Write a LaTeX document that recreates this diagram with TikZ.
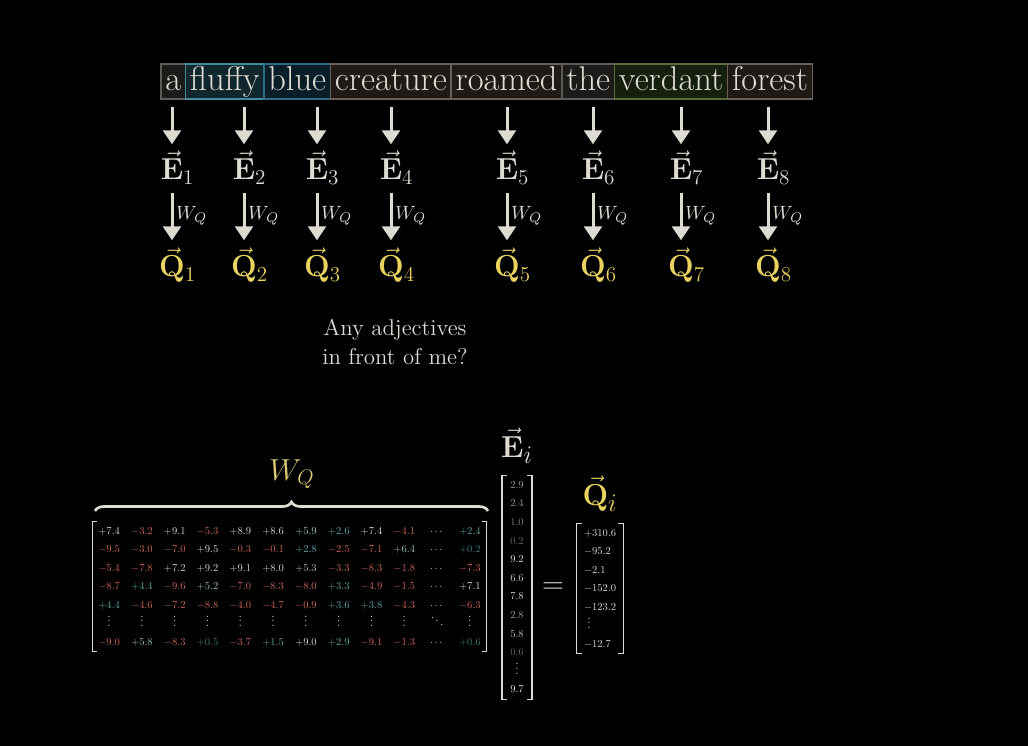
\documentclass[tikz,border=0pt]{standalone}
\usepackage{amsmath}
\usetikzlibrary{arrows.meta,positioning,matrix,calc,decorations.pathreplacing}

\definecolor{bgcol}{HTML}{000000}
\definecolor{fgcol}{HTML}{DEDBD3}
\definecolor{qyel}{HTML}{E8D35E}
\definecolor{wqyel}{HTML}{D9C874}
\definecolor{cwhite}{HTML}{DADAD2}
\definecolor{cteal}{HTML}{62A8A6}
\definecolor{clteal}{HTML}{9CC3BD}
\definecolor{cdim}{HTML}{3C7775}
\definecolor{cred}{HTML}{D06655}
\definecolor{gborder}{HTML}{5E5A55}
\definecolor{gfill}{HTML}{1D1B19}
\definecolor{tborder}{HTML}{3E8C9C}
\definecolor{tfill}{HTML}{0F272D}
\definecolor{bborder}{HTML}{2C6C86}
\definecolor{bfill}{HTML}{0A1E29}
\definecolor{brborder}{HTML}{6A6058}
\definecolor{brfill}{HTML}{1F1A16}
\definecolor{vborder}{HTML}{5A6E3C}
\definecolor{vfill}{HTML}{161F0E}

% matrix entries, coloured by sign and size
\newcommand{\numbox}[1]{\scalebox{0.6}{$#1$}}
\newcommand{\cellw}[1]{\textcolor{cwhite}{\numbox{#1}}}
\newcommand{\cellt}[1]{\textcolor{cteal}{\numbox{#1}}}
\newcommand{\celll}[1]{\textcolor{clteal}{\numbox{#1}}}
\newcommand{\celld}[1]{\textcolor{cdim}{\numbox{#1}}}
\newcommand{\cellr}[1]{\textcolor{cred}{\numbox{#1}}}
\newcommand{\cellv}[1]{\textcolor{cwhite}{\scalebox{0.68}{$#1$}}}
\newcommand{\ecell}[2]{\textcolor{white!#1!black}{\numbox{#2}}}

\begin{document}
\begin{tikzpicture}[
  x=0.02cm, y=-0.02cm,
  font=\fontsize{18}{22}\selectfont,
  wbox/.style={draw, line width=0.9pt, text=fgcol, outer sep=0pt, inner xsep=2.5pt, inner ysep=0pt, minimum height=0.7cm, font=\fontsize{19.6}{24}\selectfont, text height=13.5pt, text depth=2.7pt},
  vecnode/.style={inner sep=0pt, anchor=base, font=\fontsize{17}{20}\selectfont},
  arr/.style={-{Triangle[width=0.36cm,length=0.28cm]}, line width=0.06cm, draw=fgcol},
  wlab/.style={text=fgcol, font=\fontsize{11}{13}\selectfont, inner sep=1.5pt},
  num/.style={inner sep=0pt, anchor=center, minimum height=0.37cm, text height=4.6pt, text depth=1pt, font=\fontsize{10}{12}\selectfont},
  brk/.style={draw=cwhite, line width=0.8pt},
  brc/.style={decorate, decoration={brace, amplitude=0.18cm}, line width=1.5pt, draw=fgcol}
]
\fill[bgcol] (0,0) rectangle (1028,746);

% the sentence
\node[wbox, draw=gborder, fill=gfill, anchor=west] (w1) at (161,81.5) {a};
\node[wbox, draw=tborder, fill=tfill, right=0pt of w1] (w2) {fluffy};
\node[wbox, draw=bborder, fill=bfill, right=0pt of w2] (w3) {blue};
\node[wbox, draw=brborder, fill=brfill, right=0pt of w3] (w4) {creature};
\node[wbox, draw=brborder, fill=brfill, right=0pt of w4] (w5) {roamed};
\node[wbox, draw=gborder, fill=gfill, right=0pt of w5] (w6) {the};
\node[wbox, draw=vborder, fill=vfill, right=0pt of w6] (w7) {verdant};
\node[wbox, draw=brborder, fill=brfill, right=0pt of w7] (w8) {forest};

% embeddings and queries
\foreach \x [count=\n] in {172,244,317,391,507,593,681,768} {
  \node[vecnode, text=fgcol] (e\n) at (\x,180) {$\vec{\mathbf{E}}\rlap{$_{\n}$}$};
  \node[vecnode, text=qyel] (q\n) at (\x,277) {$\vec{\mathbf{Q}}\rlap{$_{\n}$}$};
  \draw[arr, shorten <=0.16cm, shorten >=0.12cm] (w\n.south -| e\n.north) -- (e\n.north);
  \draw[arr, shorten <=0.16cm, shorten >=0.14cm] (e\n.south) -- (q\n.north) node[wlab, midway, right] {$W_Q$};
}

\node[text=fgcol, align=center, font=\fontsize{13}{16}\selectfont] (ask) at (395,342) {Any adjectives\\in front of me?};

% the product
\matrix (wq) [matrix of nodes, inner sep=0pt, column sep=0pt, row sep=0pt, nodes={num, minimum width=0.656cm}] at (289.5,586.5) {
  \cellw{+7.4} & \cellr{-3.2} & \cellw{+9.1} & \cellr{-5.3} & \cellw{+8.9} & \cellw{+8.6} & \celll{+5.9} & \cellt{+2.6} & \cellw{+7.4} & \cellr{-4.1} & \cellw{\cdots} & \cellt{+2.4} \\
  \cellr{-9.5} & \cellr{-3.0} & \cellr{-7.0} & \cellw{+9.5} & \cellr{-0.3} & \cellr{-0.1} & \cellt{+2.8} & \cellr{-2.5} & \cellr{-7.1} & \celll{+6.4} & \cellw{\cdots} & \celld{+0.2} \\
  \cellr{-5.4} & \cellr{-7.8} & \cellw{+7.2} & \cellw{+9.2} & \cellw{+9.1} & \cellw{+8.0} & \celll{+5.3} & \cellr{-3.3} & \cellr{-8.3} & \cellr{-1.8} & \cellw{\cdots} & \cellr{-7.3} \\
  \cellr{-8.7} & \cellt{+4.4} & \cellr{-9.6} & \celll{+5.2} & \cellr{-7.0} & \cellr{-8.3} & \cellr{-8.0} & \cellt{+3.3} & \cellr{-4.9} & \cellr{-1.5} & \cellw{\cdots} & \cellw{+7.1} \\
  \cellt{+4.4} & \cellr{-4.6} & \cellr{-7.2} & \cellr{-8.8} & \cellr{-4.0} & \cellr{-4.7} & \cellr{-0.9} & \cellt{+3.6} & \cellt{+3.8} & \cellr{-4.3} & \cellw{\cdots} & \cellr{-6.3} \\
  \cellv{\vdots} & \cellv{\vdots} & \cellv{\vdots} & \cellv{\vdots} & \cellv{\vdots} & \cellv{\vdots} & \cellv{\vdots} & \cellv{\vdots} & \cellv{\vdots} & \cellv{\vdots} & \cellv{\ddots} & \cellv{\vdots} \\
  \cellr{-9.0} & \celll{+5.8} & \cellr{-8.3} & \celld{+0.5} & \cellr{-3.7} & \cellt{+1.5} & \cellw{+9.0} & \cellt{+2.9} & \cellr{-9.1} & \cellr{-1.3} & \cellw{\cdots} & \celld{+0.6} \\
};

\coordinate (bl) at (95,511);
\coordinate (br) at (488,511);
\draw[brc] (bl) -- (br);
\node[text=wqyel, font=\fontsize{17}{20}\selectfont] (wqlab) at (292,474) {$W_Q$};

\matrix (ev) [matrix of nodes, inner xsep=0.04cm, inner ysep=0pt, row sep=0pt, nodes={num, minimum width=0.5cm, minimum height=0.372cm}] at (517,587.5) {
  \ecell{62}{2.9} \\ \ecell{60}{2.4} \\ \ecell{50}{1.0} \\ \ecell{40}{0.2} \\
  \ecell{90}{9.2} \\ \ecell{80}{6.6} \\ \ecell{86}{7.8} \\ \ecell{62}{2.8} \\
  \ecell{76}{5.8} \\ \ecell{42}{0.6} \\ \cellv{\vdots} \\ \ecell{90}{9.7} \\
};
\node[text=fgcol, font=\fontsize{19}{22}\selectfont] (elab) at (517,446) {$\vec{\mathbf{E}}_i$};

\node[text=fgcol, font=\fontsize{18}{20}\selectfont] (eq) at (553,588) {$=$};

\matrix (qv) [matrix of nodes, inner xsep=0.14cm, inner ysep=0pt, row sep=0pt, nodes={num, text width=0.64cm, align=left}] at (600,588.5) {
  \cellw{+310.6} \\ \cellw{-95.2} \\ \cellw{-2.1} \\ \cellw{-152.0} \\ \cellw{-123.2} \\ \cellv{\;\vdots} \\ \cellw{-12.7} \\
};
\node[text=qyel, font=\fontsize{19}{22}\selectfont] (qlab) at (600,494) {$\vec{\mathbf{Q}}_i$};

% brackets round the three arrays
\foreach \m/\s in {wq/5, ev/5, qv/5} {
  \draw[brk] ($(\m.north west)+(\s,0)$) -- (\m.north west) -- (\m.south west) -- +(\s,0);
  \draw[brk] ($(\m.north east)+(-\s,0)$) -- (\m.north east) -- (\m.south east) -- +(-\s,0);
}
\end{tikzpicture}
\end{document}
